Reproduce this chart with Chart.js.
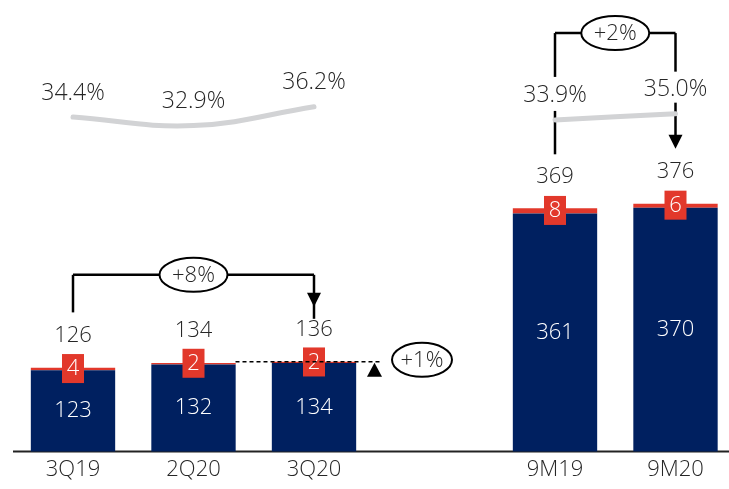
<!DOCTYPE html>
<html>
<head>
<meta charset="utf-8">
<script src="https://cdn.jsdelivr.net/npm/chart.js@4/dist/chart.umd.min.js"></script>
<style>
  html, body { margin: 0; padding: 0; background: #fff; overflow: hidden; }
  #wrap { width: 729px; height: 489px; }
</style>
</head>
<body>
<div id="wrap"><canvas id="grafico"></canvas></div>
<script>
// datos
var categorias = ['3Q19', '2Q20', '3Q20', '', '9M19', '9M20'];
var base = [123, 132, 134, null, 361, 370];
var extra = [4, 2, 2, null, 8, 6];
var totales = [126, 134, 136, null, 369, 376];
var margen = [34.4, 32.9, 36.2, null, 33.9, 35.0];
var margenTxt = ['34.4%', '32.9%', '36.2%', '', '33.9%', '35.0%'];

var FUENTE = '"Open Sans", Lato, sans-serif';
var NAVY = '#002060';
var ROJO = '#e2382b';
var TEXTO = '#262626';

function fuente(tam) { return '300 ' + tam + 'px ' + FUENTE; }

function elipse(ctx, cx, cy, w, h, txt) {
    ctx.save();
    ctx.beginPath();
    ctx.ellipse(cx, cy, w / 2, h / 2, 0, 0, Math.PI * 2);
    ctx.fillStyle = '#fff';
    ctx.fill();
    ctx.lineWidth = 2;
    ctx.strokeStyle = '#000';
    ctx.stroke();
    ctx.fillStyle = TEXTO;
    ctx.font = fuente(22);
    ctx.textAlign = 'center';
    ctx.textBaseline = 'middle';
    ctx.fillText(txt, cx, cy + 1);
    ctx.restore();
}

function flechaAbajo(ctx, x, yTip) {
    ctx.beginPath();
    ctx.moveTo(x - 7, yTip - 14);
    ctx.lineTo(x + 7, yTip - 14);
    ctx.lineTo(x, yTip);
    ctx.closePath();
    ctx.fill();
}

function linea(ctx, x1, y1, x2, y2) {
    ctx.beginPath();
    ctx.moveTo(x1, y1);
    ctx.lineTo(x2, y2);
    ctx.stroke();
}

// lineas de base y corchetes (debajo de las series)
var pluginFondo = {
    id: 'fondo',
    beforeDatasetsDraw: function(chart) {
        var ctx = chart.ctx;
        var x = chart.scales.x, y = chart.scales.y, y2 = chart.scales.y2;
        var yBase = y.getPixelForValue(0);
        ctx.save();
        ctx.strokeStyle = '#222';
        ctx.lineWidth = 2;
        linea(ctx, 13, yBase, chart.width, yBase);

        ctx.strokeStyle = '#000';
        ctx.fillStyle = '#000';
        ctx.lineWidth = 2.5;
        // corchete +8%
        var xa = x.getPixelForValue(0), xb = x.getPixelForValue(2);
        var yc = y.getPixelForValue(268);
        var ta = y.getPixelForValue(totales[0]) - 36;
        var tb = y.getPixelForValue(totales[2]) - 29;
        linea(ctx, xa, ta - 20, xa, yc);
        linea(ctx, xa, yc, xb, yc);
        linea(ctx, xb, yc, xb, tb - 14);
        flechaAbajo(ctx, xb, tb - 26);

        // corchete +2%
        var xc = x.getPixelForValue(4), xd = x.getPixelForValue(5);
        var yd = y.getPixelForValue(635);
        var pc = y2.getPixelForValue(margen[4]) - 24;
        var pd = y2.getPixelForValue(margen[5]) - 24;
        var tc = y.getPixelForValue(totales[4]) - 30;
        var td = y.getPixelForValue(totales[5]) - 30;
        linea(ctx, xc, yd, xd, yd);
        linea(ctx, xc, yd, xc, pc - 19);
        linea(ctx, xc, pc + 15, xc, tc - 24);
        linea(ctx, xd, yd, xd, pd - 18);
        linea(ctx, xd, pd + 13, xd, td - 35);
        flechaAbajo(ctx, xd, td - 25);
        ctx.restore();
    },
    afterDatasetsDraw: function(chart) {
        var ctx = chart.ctx;
        var x = chart.scales.x, y = chart.scales.y;
        var mBase = chart.getDatasetMeta(0);
        var mExtra = chart.getDatasetMeta(1);
        var mLinea = chart.getDatasetMeta(2);
        ctx.save();
        ctx.textAlign = 'center';
        ctx.textBaseline = 'middle';
        for (var i = 0; i < categorias.length; i++) {
            if (base[i] === null) continue;
            var b = mBase.data[i], r = mExtra.data[i], p = mLinea.data[i];
            // valor dentro de la barra
            ctx.font = fuente(22);
            ctx.fillStyle = '#fff';
            ctx.fillText(base[i], b.x, (b.y + b.base) / 2);
            // caja roja
            var cy = (r.y + r.base) / 2;
            ctx.fillStyle = ROJO;
            ctx.fillRect(b.x - 11, cy - 15, 22, 29);
            ctx.fillStyle = '#fff';
            ctx.fillText(extra[i], b.x, cy);
            // total
            ctx.fillStyle = TEXTO;
            ctx.fillText(totales[i], b.x, r.y - 32);
            // margen
            ctx.font = fuente(23);
            ctx.fillText(margenTxt[i], p.x, p.y - 24);
        }

        // +1% respecto al trimestre anterior
        var y136 = y.getPixelForValue(totales[2]);
        var x0 = x.getPixelForValue(1) + 42;
        ctx.strokeStyle = '#000';
        ctx.lineWidth = 1.5;
        ctx.setLineDash([4, 3]);
        linea(ctx, x0, y136, 382, y136);
        ctx.setLineDash([]);
        ctx.fillStyle = '#000';
        ctx.beginPath();
        ctx.moveTo(367, y136 + 15);
        ctx.lineTo(382, y136 + 15);
        ctx.lineTo(374.5, y136 + 1);
        ctx.closePath();
        ctx.fill();
        ctx.restore();

        elipse(ctx, 422, y136 - 2, 60, 34, '+1%');
        var yc = y.getPixelForValue(268);
        elipse(ctx, (x.getPixelForValue(0) + x.getPixelForValue(2)) / 2, yc, 68, 34, '+8%');
        var yd = y.getPixelForValue(635);
        elipse(ctx, (x.getPixelForValue(4) + x.getPixelForValue(5)) / 2, yd, 68, 34, '+2%');
    }
};

var ctx = document.getElementById('grafico').getContext('2d');
var grafico = new Chart(ctx, {
    type: 'bar',
    data: {
        labels: categorias,
        datasets: [{
            label: 'Base',
            data: base,
            backgroundColor: NAVY,
            stack: 's',
            clip: false,
            order: 2
        }, {
            label: 'Extra',
            data: extra,
            backgroundColor: ROJO,
            stack: 's',
            clip: false,
            order: 2
        }, {
            type: 'line',
            label: 'Margen',
            data: margen,
            yAxisID: 'y2',
            borderColor: '#d2d3d5',
            borderWidth: 5,
            borderCapStyle: 'round',
            tension: 0.4,
            pointRadius: 0,
            spanGaps: false,
            clip: false,
            order: 1
        }]
    },
    options: {
        responsive: true,
        maintainAspectRatio: false,
        animation: false,
        layout: { padding: { left: 73, right: 53.5, top: 10, bottom: 0 } },
        datasets: { bar: { barPercentage: 0.7, categoryPercentage: 1 } },
        plugins: {
            legend: { display: false },
            tooltip: { enabled: false }
        },
        scales: {
            x: {
                offset: false,
                stacked: true,
                grid: { display: false, drawTicks: false },
                border: { display: false },
                ticks: {
                    color: TEXTO,
                    font: { family: FUENTE, size: 22, weight: 300, lineHeight: 0.8 },
                    padding: 10,
                    maxRotation: 0,
                    autoSkip: false
                }
            },
            y: {
                display: false,
                stacked: true,
                min: 0,
                max: 670
            },
            y2: {
                display: false,
                min: -24.3,
                max: 53.2
            }
        }
    },
    plugins: [pluginFondo]
});
</script>
</body>
</html>
